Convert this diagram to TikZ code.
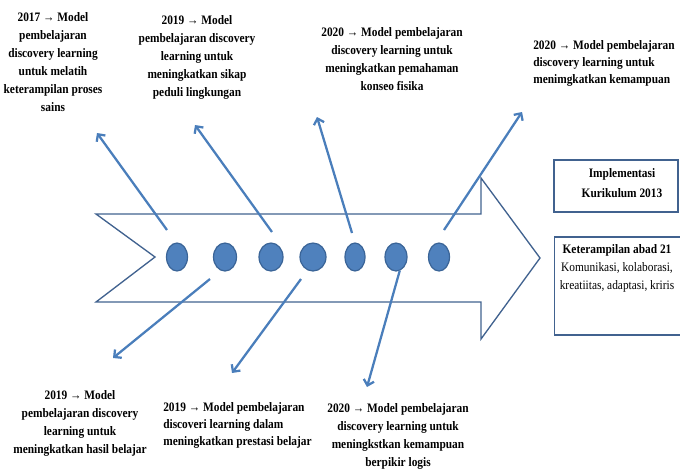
\documentclass[tikz,border=0pt]{standalone}
\usepackage{fontspec}
\setmainfont{Liberation Serif}[FakeStretch=0.88]
\usetikzlibrary{arrows.meta,shapes.geometric}
\definecolor{dotblue}{HTML}{4F81BD}
\definecolor{rimblue}{HTML}{3A6497}
\definecolor{lineblue}{HTML}{4A7EBB}
\definecolor{frameblue}{HTML}{41628F}

\begin{document}
\begin{tikzpicture}[x=0.75pt,y=-0.75pt,
    bubble/.style={ellipse, draw=rimblue, fill=dotblue, line width=0.9pt, inner sep=0pt, minimum height=21pt},
    pointer/.style={-{Straight Barb[length=4pt,width=8pt]}, draw=lineblue, line width=1.7pt},
    lbl/.style={font=\fontsize{9.7}{13.5}\selectfont\bfseries, align=center, inner sep=0pt},
    panel/.style={draw=frameblue, line width=1pt, inner sep=0pt}]
            \useasboundingbox (0,0) rectangle (680,469);

            % Big arrow
            \draw[frameblue, line width=1pt] (96,214) -- (481,214) -- (481,178) -- (540,258)
                -- (481,339) -- (481,302) -- (96,302) -- (155,257) -- cycle;

            % Dots
            \node at (177,257) [bubble, minimum width=15.75pt] (e1) {};
            \node at (225,257) [bubble, minimum width=17.25pt] (e2) {};
            \node at (271,257) [bubble, minimum width=18pt] (e3) {};
            \node at (313,257) [bubble, minimum width=19.5pt] (e4) {};
            \node at (355,257) [bubble, minimum width=15pt] (e5) {};
            \node at (396,257) [bubble, minimum width=16.5pt] (e6) {};
            \node at (439,257) [bubble, minimum width=15.75pt] (e7) {};

            % Texts above
            \node at (53,62) [lbl] (n17) {2017 → Model\\pembelajaran\\discovery learning\\untuk melatih\\keterampilan proses\\sains};
            \node at (197,57) [lbl] (n19a) {2019 → Model\\pembelajaran discovery\\learning untuk\\meningkatkan sikap\\peduli lingkungan};
            \node at (392,59) [lbl] (n20a) {2020 → Model pembelajaran\\discovery learning untuk\\meningkatkan pemahaman\\konseo fisika};
            \node at (533,63.5) [lbl, anchor=west, align=left, font=\fontsize{9.7}{12.5}\selectfont\bfseries] (n20b) {2020 → Model pembelajaran\\discovery learning untuk\\menimgkatkan kemampuan};

            % Texts below
            \node at (80,423) [lbl] (n19b) {2019 → Model\\pembelajaran discovery\\learning untuk\\meningkatkan hasil belajar};
            \node at (163,425) [lbl, anchor=west, align=left, font=\fontsize{9.7}{12.8}\selectfont\bfseries] (n19c) {2019 → Model pembelajaran\\discoveri learning dalam\\meningkatkan prestasi belajar};
            \node at (398,436) [lbl] (n20c) {2020 → Model pembelajaran\\discovery learning untuk\\meningkstkan kemampuan\\berpikir logis};

            % Boxes on the right
            \node at (616,186) [panel, minimum width=93pt, minimum height=39pt] (kur) {};
            \node at (622,183) [lbl, font=\fontsize{9.7}{15}\selectfont\bfseries] (kurtxt) {Implementasi\\Kurikulum 2013};
            \node at (620,286) [panel, minimum width=98pt, minimum height=73.5pt] (abad) {};
            \node at (617,250) [lbl] (abadhead) {Keterampilan abad 21};
            \node at (617,277.5) [lbl, font=\fontsize{9.7}{14}\selectfont] (abadtxt) {Komunikasi, kolaborasi,\\kreatiitas, adaptasi, kriris};

            % Arrow ends
            \coordinate (u1) at (167,230); \coordinate (h1) at (97,133);
            \coordinate (u2) at (272,232); \coordinate (h2) at (195,125);
            \coordinate (u3) at (352,233); \coordinate (h3) at (317,117);
            \coordinate (u4) at (444,230); \coordinate (h4) at (522,112);
            \coordinate (d1) at (210,279); \coordinate (g1) at (113,358);
            \coordinate (d2) at (301,279); \coordinate (g2) at (232,373);
            \coordinate (g3) at (367,387);

            % Arrows
            \draw[pointer] (u1) -- (h1);
            \draw[pointer] (u2) -- (h2);
            \draw[pointer] (u3) -- (h3);
            \draw[pointer] (u4) -- (h4);
            \draw[pointer] (d1) -- (g1);
            \draw[pointer] (d2) -- (g2);
            \draw[pointer] (e6.-75) -- (g3);
\end{tikzpicture}
\end{document}
